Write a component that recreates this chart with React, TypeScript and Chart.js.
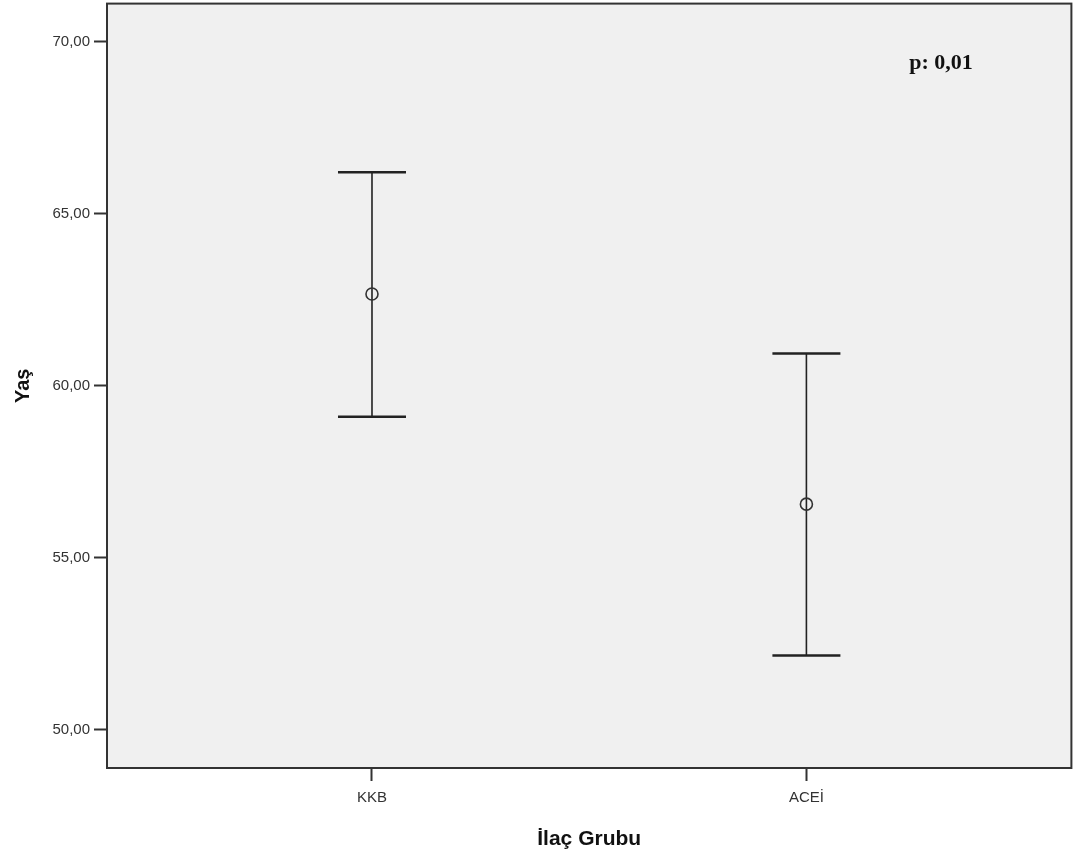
import React, { useEffect, useRef } from "react";
import { Chart, registerables } from "chart.js";

Chart.register(...registerables);

const categories = ["KKB", "ACEİ"];
const means = [62.67, 56.56];
const lowerCI = [59.1, 52.16];
const upperCI = [66.21, 60.94];
const yTicks = [50, 55, 60, 65, 70];
const pText = "p: 0,01";
const pPos = { x: 2.31, y: 69.38 };

const fmt = (v: number) => v.toFixed(2).replace(".", ",");

export default function App() {
  const ref = useRef<HTMLCanvasElement | null>(null);

  useEffect(() => {
    if (!ref.current) return;

    const spssPlugin = {
      id: "spss",
      beforeDraw(chart: any) {
        const { ctx, chartArea: a } = chart;
        ctx.save();
        ctx.fillStyle = "#f0f0f0";
        ctx.fillRect(a.left, a.top, a.right - a.left, a.bottom - a.top);
        ctx.restore();
      },
      beforeDatasetsDraw(chart: any) {
        const { ctx } = chart;
        const xs = chart.scales.x;
        const ys = chart.scales.y;
        ctx.save();
        ctx.strokeStyle = "#222";
        categories.forEach((_, i) => {
          const px = xs.getPixelForValue(i + 1);
          const yl = ys.getPixelForValue(lowerCI[i]);
          const yu = ys.getPixelForValue(upperCI[i]);
          ctx.lineWidth = 1.6;
          ctx.beginPath();
          ctx.moveTo(px, yl);
          ctx.lineTo(px, yu);
          ctx.stroke();
          ctx.lineWidth = 2.5;
          ctx.beginPath();
          ctx.moveTo(px - 34, yl);
          ctx.lineTo(px + 34, yl);
          ctx.moveTo(px - 34, yu);
          ctx.lineTo(px + 34, yu);
          ctx.stroke();
        });
        ctx.restore();
      },
      afterDraw(chart: any) {
        const { ctx, chartArea: a } = chart;
        const xs = chart.scales.x;
        const ys = chart.scales.y;
        ctx.save();
        ctx.strokeStyle = "#333";
        ctx.lineWidth = 2;
        ctx.strokeRect(a.left, a.top, a.right - a.left, a.bottom - a.top);
        ctx.fillStyle = "#111";
        ctx.font = "bold 22px 'Liberation Serif', serif";
        ctx.textAlign = "center";
        ctx.textBaseline = "middle";
        ctx.fillText(pText, xs.getPixelForValue(pPos.x), ys.getPixelForValue(pPos.y));
        ctx.restore();
      },
    };

    const chart = new Chart(ref.current, {
      type: "scatter",
      data: {
        datasets: [
          {
            data: means.map((m, i) => ({ x: i + 1, y: m })),
            pointStyle: "circle",
            pointRadius: 6,
            pointHoverRadius: 6,
            backgroundColor: "rgba(0,0,0,0)",
            borderColor: "#333",
            borderWidth: 1.6,
          },
        ],
      },
      options: {
        responsive: false,
        animation: false,
        layout: { padding: { top: 0, right: 0, left: 0, bottom: 0 } },
        plugins: {
          legend: { display: false },
          tooltip: { enabled: false },
        },
        scales: {
          x: {
            type: "linear",
            min: 0.39,
            max: 2.61,
            afterBuildTicks: (s: any) => {
              s.ticks = categories.map((_, i) => ({ value: i + 1 }));
            },
            afterFit: (s: any) => {
              s.height = 90;
              s.paddingLeft = 0;
              s.paddingRight = 0;
            },
            ticks: {
              callback: (v: any) => categories[Math.round(Number(v)) - 1] ?? "",
              color: "#333",
              font: { family: "'Liberation Sans', Arial, sans-serif", size: 15 },
              padding: 8,
              maxRotation: 0,
              autoSkip: false,
            },
            grid: {
              display: true,
              drawOnChartArea: false,
              tickLength: 13,
              tickColor: "#333",
              tickWidth: 2,
            },
            border: { display: false },
            title: {
              display: true,
              text: "İlaç Grubu",
              color: "#111",
              font: { family: "'Liberation Sans', Arial, sans-serif", size: 21, weight: "bold" },
              padding: { top: 0, bottom: 6 },
            },
          },
          y: {
            type: "linear",
            min: 48.89,
            max: 71.11,
            afterBuildTicks: (s: any) => {
              s.ticks = yTicks.map((v) => ({ value: v }));
            },
            afterFit: (s: any) => {
              s.width = 107;
              s.paddingTop = 0;
              s.paddingBottom = 0;
            },
            ticks: {
              callback: (v: any) => fmt(Number(v)),
              color: "#333",
              font: { family: "'Liberation Sans', Arial, sans-serif", size: 15 },
              padding: 4,
            },
            grid: {
              display: true,
              drawOnChartArea: false,
              tickLength: 13,
              tickColor: "#333",
              tickWidth: 2,
            },
            border: { display: false },
            title: {
              display: true,
              text: "Yaş",
              color: "#111",
              font: { family: "'Liberation Sans', Arial, sans-serif", size: 20, weight: "bold" },
              padding: { top: 11, bottom: 0 },
            },
          },
        },
      },
      plugins: [spssPlugin],
    });

    return () => chart.destroy();
  }, []);

  return (
    <div
      style={{
        position: "absolute",
        left: 0,
        top: 0,
        width: 1075,
        height: 858,
        overflow: "hidden",
        background: "#fff",
      }}
    >
      <canvas
        ref={ref}
        width={1079}
        height={862}
        style={{ display: "block", position: "absolute", left: 0, top: -4 }}
      />
    </div>
  );
}
